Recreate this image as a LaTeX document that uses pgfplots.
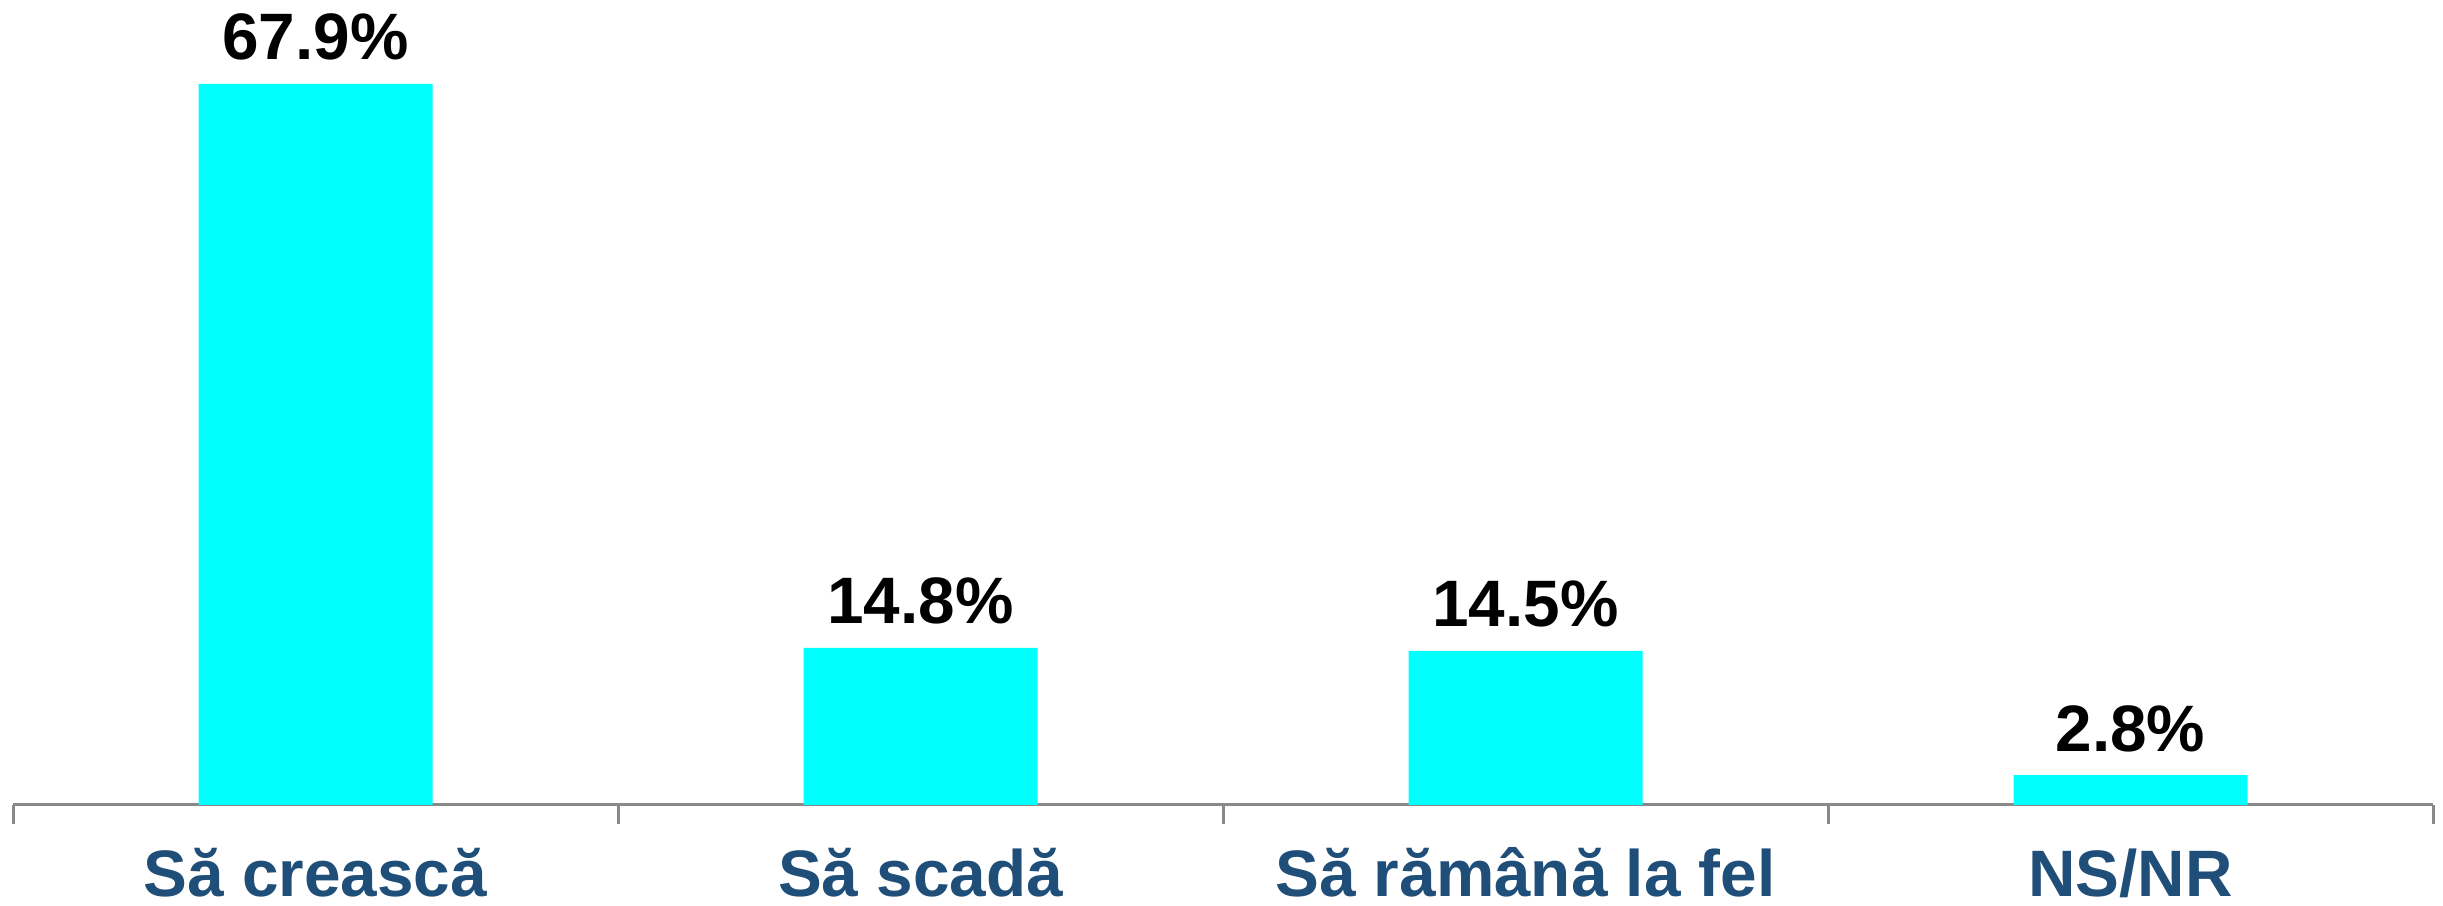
\documentclass[border=0pt]{standalone}
\usepackage{pgfplots}
\pgfplotsset{compat=1.18}
\usepackage{fontspec}
\setmainfont{Liberation Sans}
\definecolor{barcyan}{HTML}{00FFFF}
\definecolor{catblue}{HTML}{1F4E79}
\definecolor{axgray}{HTML}{898989}
\begin{document}
\begin{tikzpicture}
\begin{axis}[
  at={(0,0)}, anchor=south west,
  scale only axis,
  width=726pt, height=241.5pt,
  xmin=-0.5, xmax=3.5, ymin=0, ymax=75.8,
  clip=false,
  axis x line*=bottom,
  axis y line=none,
  axis line style={axgray, line width=0.9pt},
  x axis line style={-},
  xtick={0,1,2,3},
  xticklabels={Să crească, Să scadă, Să rămână la fel, NS/NR},
  tick align=outside,
  tick style={axgray, line width=0.9pt},
  major tick length=0pt,
  extra x ticks={-0.5,0.5,1.5,2.5,3.5},
  extra x tick labels={},
  extra x tick style={major tick length=5.7pt},
  xticklabel style={font=\fontsize{19.7}{24}\selectfont\bfseries, text=catblue, anchor=base, yshift=-27.6pt, inner sep=0pt},
  ybar, bar width=70.2pt,
  point meta=explicit symbolic,
  nodes near coords,
  every node near coord/.append style={font=\fontsize{19.7}{24}\selectfont\bfseries, text=black, anchor=base, yshift=7.2pt, inner sep=0pt},
]
\addplot[fill=barcyan, draw=none] table[x=x, y=y, meta=lab] {
x y lab
0 67.9 67.9\%
1 14.8 14.8\%
2 14.5 14.5\%
3 2.8 2.8\%
};
\end{axis}
\pgfresetboundingbox
\path[use as bounding box] (-3.9pt,-30.3pt) rectangle (729pt,241.5pt);
\end{tikzpicture}
\end{document}
